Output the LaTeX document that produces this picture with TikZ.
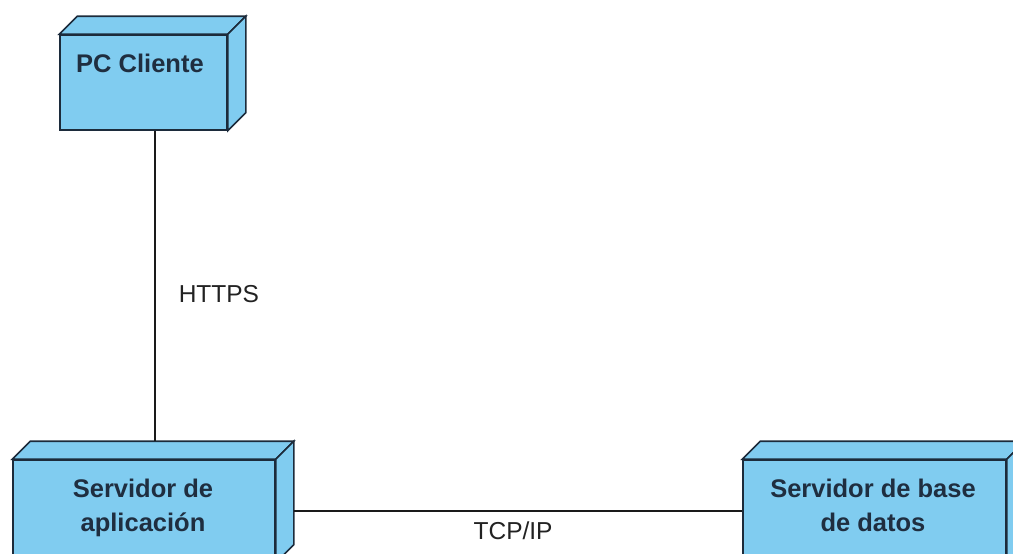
\documentclass[tikz,border=0pt]{standalone}
\usepackage{fontspec}
\setmainfont{Liberation Sans}
\definecolor{edge}{HTML}{1C2B3B}
\definecolor{nodefill}{HTML}{80CCF0}
\definecolor{nodetext}{HTML}{1F2E40}
\definecolor{linkcol}{HTML}{1A1A1A}
\definecolor{labeltext}{HTML}{222222}
% top and right faces of a UML deployment node
\newcommand{\drawdepth}[1]{%
  \path[box] (#1.north west) -- ++(18,-18) -- ([shift={(18,-18)}]#1.north east) -- (#1.north east) -- cycle;
  \path[box] (#1.north east) -- ++(18,-18) -- ([shift={(18,-18)}]#1.south east) -- (#1.south east) -- cycle;}
\begin{document}
\begin{tikzpicture}[x=1pt,y=-1pt,
  box/.style={draw=edge, fill=nodefill, line width=1.6pt, inner sep=0pt, line join=miter},
  boxtext/.style={font=\bfseries\fontsize{25.5}{34.5}\selectfont, text=nodetext, align=center, inner sep=0pt},
  link/.style={draw=linkcol, line width=1.5pt},
  linklabel/.style={font=\fontsize{24.5}{29}\selectfont, text=labeltext, inner sep=0pt}]
\useasboundingbox (0,0) rectangle (1013,554);
\clip (0,0) rectangle (1013,554);

% deployment nodes
\node[box, minimum width=167pt, minimum height=95pt] (pc) at (143.5,82.5) {};
\drawdepth{pc}
\node[box, minimum width=262pt, minimum height=102pt] (app) at (144,511) {};
\drawdepth{app}
\node[box, minimum width=263pt, minimum height=102pt] (db) at (874.5,511) {};
\drawdepth{db}

% node names
\node[boxtext, anchor=base] (pcname) at (140,72) {PC Cliente};
\node[boxtext, anchor=north] (appname) at (143,478.5) {Servidor de\\aplicación};
\node[boxtext, anchor=north] (dbname) at (873,478.5) {Servidor de base\\de datos};

% communication paths
\draw[link] ([xshift=11.5]pc.south) -- node[linklabel, pos=0.526, anchor=west, xshift=23pt] (https) {HTTPS} ([shift={(11,-18)}]app.north);
\draw[link] ([xshift=18]app.east) -- node[linklabel, pos=0.489, anchor=north, yshift=-10pt] (tcp) {TCP/IP} (db.west);
\end{tikzpicture}
\end{document}
